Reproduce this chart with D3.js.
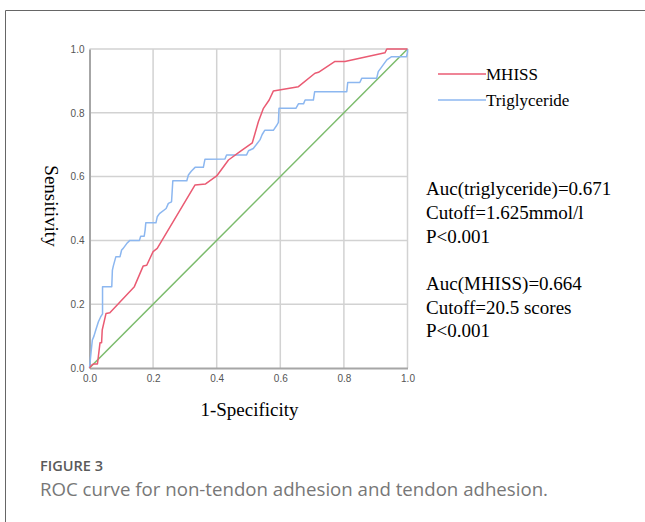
<!DOCTYPE html>
<html>
<head>
  <script src="https://d3js.org/d3.v7.min.js"></script>
  <title>ROC curve</title>
  <style>
    body { margin: 0; background: #fff; }
  </style>
</head>
<body>
  <div id="myDiv"></div>
  <script>
    // ROC points (1-specificity, sensitivity)
    const mhissFpr = [0, 0.007, 0.012, 0.025, 0.033, 0.038, 0.04, 0.052, 0.064, 0.141, 0.169, 0.18, 0.2, 0.213, 0.332, 0.365, 0.40, 0.437, 0.473, 0.512, 0.531, 0.547, 0.565, 0.578, 0.657, 0.709, 0.72, 0.772, 0.803, 0.929, 0.935, 1];
    const mhissTpr = [0, 0.009, 0.0125, 0.0125, 0.079, 0.079, 0.119, 0.171, 0.173, 0.255, 0.32, 0.322, 0.365, 0.375, 0.574, 0.577, 0.602, 0.652, 0.678, 0.706, 0.772, 0.814, 0.84, 0.868, 0.882, 0.924, 0.927, 0.961, 0.961, 0.988, 1, 1];

    const trigFpr = [0, 0.003, 0.005, 0.009, 0.014, 0.02, 0.028, 0.035, 0.041, 0.041, 0.07, 0.072, 0.075, 0.083, 0.096, 0.101, 0.106, 0.117, 0.127, 0.157, 0.161, 0.172, 0.175, 0.177, 0.209, 0.213, 0.22, 0.241, 0.248, 0.258, 0.262, 0.306, 0.311, 0.32, 0.332, 0.358, 0.363, 0.426, 0.431, 0.494, 0.5, 0.515, 0.526, 0.536, 0.543, 0.551, 0.578, 0.589, 0.594, 0.596, 0.649, 0.657, 0.673, 0.678, 0.704, 0.708, 0.809, 0.812, 0.85, 0.856, 0.903, 0.908, 0.919, 0.935, 0.95, 0.997, 1, 1];
    const trigTpr = [0, 0.03, 0.05, 0.088, 0.1, 0.12, 0.145, 0.16, 0.17, 0.255, 0.255, 0.307, 0.32, 0.349, 0.349, 0.37, 0.375, 0.39, 0.4, 0.4, 0.413, 0.413, 0.433, 0.455, 0.455, 0.474, 0.484, 0.5, 0.516, 0.521, 0.587, 0.587, 0.605, 0.617, 0.629, 0.629, 0.654, 0.655, 0.668, 0.668, 0.681, 0.688, 0.702, 0.715, 0.732, 0.745, 0.745, 0.761, 0.77, 0.814, 0.814, 0.828, 0.828, 0.84, 0.84, 0.866, 0.866, 0.895, 0.895, 0.908, 0.908, 0.929, 0.944, 0.966, 0.976, 0.976, 0.99, 1];

    const refFpr = [0, 1];
    const refTpr = [0, 1];

    const tickVals = [0, 0.2, 0.4, 0.6, 0.8, 1.0];
    const legendNames = ["MHISS", "Triglyceride"];
    const statLines = ["Auc(triglyceride)=0.671", "Cutoff=1.625mmol/l", "P<0.001", "", "Auc(MHISS)=0.664", "Cutoff=20.5 scores", "P<0.001"];

    const W = 645, H = 522;
    const plot = { left: 89.5, right: 407.5, top: 49, bottom: 368 };
    const red = "#ea5b73", blue = "#8cb7f0", green = "#7bbb6c";
    const serif = "'Liberation Serif', 'Times New Roman', serif";

    const svg = d3.select("#myDiv").append("svg")
      .attr("width", W).attr("height", H);

    // frame (top and left edges)
    svg.append("path")
      .attr("d", `M5.5,${H} V10.5 H${W}`)
      .attr("fill", "none").attr("stroke", "#666").attr("stroke-width", 1);

    const x = d3.scaleLinear().domain([0, 1]).range([plot.left, plot.right]);
    const y = d3.scaleLinear().domain([0, 1]).range([plot.bottom, plot.top]);

    // grid
    const grid = svg.append("g");
    grid.selectAll("line.v").data(tickVals.slice(1)).join("line")
      .attr("x1", d => x(d)).attr("x2", d => x(d))
      .attr("y1", y(0)).attr("y2", y(1))
      .attr("stroke", "#d2d2d2").attr("stroke-width", 1.5);
    grid.selectAll("line.h").data(tickVals.slice(1)).join("line")
      .attr("y1", d => y(d)).attr("y2", d => y(d))
      .attr("x1", x(0)).attr("x2", x(1))
      .attr("stroke", "#d2d2d2").attr("stroke-width", 1.5);

    // axes
    const xAxis = svg.append("g")
      .attr("transform", `translate(0,${plot.bottom})`)
      .call(d3.axisBottom(x).tickValues(tickVals).tickFormat(d3.format(".1f")).tickSize(0).tickPadding(7));
    const yAxis = svg.append("g")
      .attr("transform", `translate(${plot.left},0)`)
      .call(d3.axisLeft(y).tickValues(tickVals).tickFormat(d3.format(".1f")).tickSize(0).tickPadding(5));
    [xAxis, yAxis].forEach(a => {
      a.select(".domain").attr("stroke", "#a6a6a6").attr("stroke-width", 2);
      a.selectAll("text").attr("fill", "#555").style("font-family", "Arial, 'Liberation Sans', sans-serif").style("font-size", "10px");
    });

    // curves
    const line = d3.line().x(d => x(d[0])).y(d => y(d[1]));
    const series = [
      { fpr: refFpr, tpr: refTpr, color: green },
      { fpr: trigFpr, tpr: trigTpr, color: blue },
      { fpr: mhissFpr, tpr: mhissTpr, color: red }
    ];
    series.forEach(s => {
      svg.append("path")
        .datum(d3.zip(s.fpr, s.tpr))
        .attr("d", line)
        .attr("fill", "none")
        .attr("stroke", s.color)
        .attr("stroke-width", 1.5)
        .attr("stroke-linejoin", "round");
    });

    // axis titles
    svg.append("text")
      .attr("x", (plot.left + plot.right) / 2 + 1).attr("y", 416)
      .attr("text-anchor", "middle")
      .style("font-family", serif).style("font-size", "19px")
      .text("1-Specificity");
    svg.append("text")
      .attr("transform", `translate(45,206) rotate(90)`)
      .attr("text-anchor", "middle")
      .style("font-family", serif).style("font-size", "19px")
      .text("Sensitivity");

    // legend
    const legColors = [red, blue];
    const leg = svg.selectAll("g.leg").data(legendNames).join("g")
      .attr("transform", (d, i) => `translate(438,${74 + i * 26})`);
    leg.append("line")
      .attr("x1", 0).attr("x2", 48).attr("y1", 0).attr("y2", 0)
      .attr("stroke", (d, i) => legColors[i]).attr("stroke-width", 1.5);
    leg.append("text")
      .attr("x", 48).attr("y", 6)
      .style("font-family", serif).style("font-size", "17px")
      .text(d => d);

    // stats text
    const statY = [195, 219, 243, 0, 290, 314, 337];
    svg.selectAll("text.stat").data(statLines).join("text")
      .attr("class", "stat")
      .attr("x", 426).attr("y", (d, i) => statY[i])
      .style("font-family", serif).style("font-size", "19px")
      .text(d => d);

    // caption
    svg.append("text")
      .attr("x", 40).attr("y", 471)
      .attr("fill", "#5a5a5a")
      .style("font-family", "'Open Sans', sans-serif").style("font-size", "13.5px").style("font-weight", 600)
      .attr("textLength", 63).attr("lengthAdjust", "spacingAndGlyphs")
      .text("FIGURE 3");
    svg.append("text")
      .attr("x", 40).attr("y", 496)
      .attr("fill", "#777")
      .style("font-family", "'Open Sans', sans-serif").style("font-size", "17.5px")
      .attr("textLength", 508).attr("lengthAdjust", "spacingAndGlyphs")
      .text("ROC curve for non-tendon adhesion and tendon adhesion.");
  </script>
</body>
</html>
